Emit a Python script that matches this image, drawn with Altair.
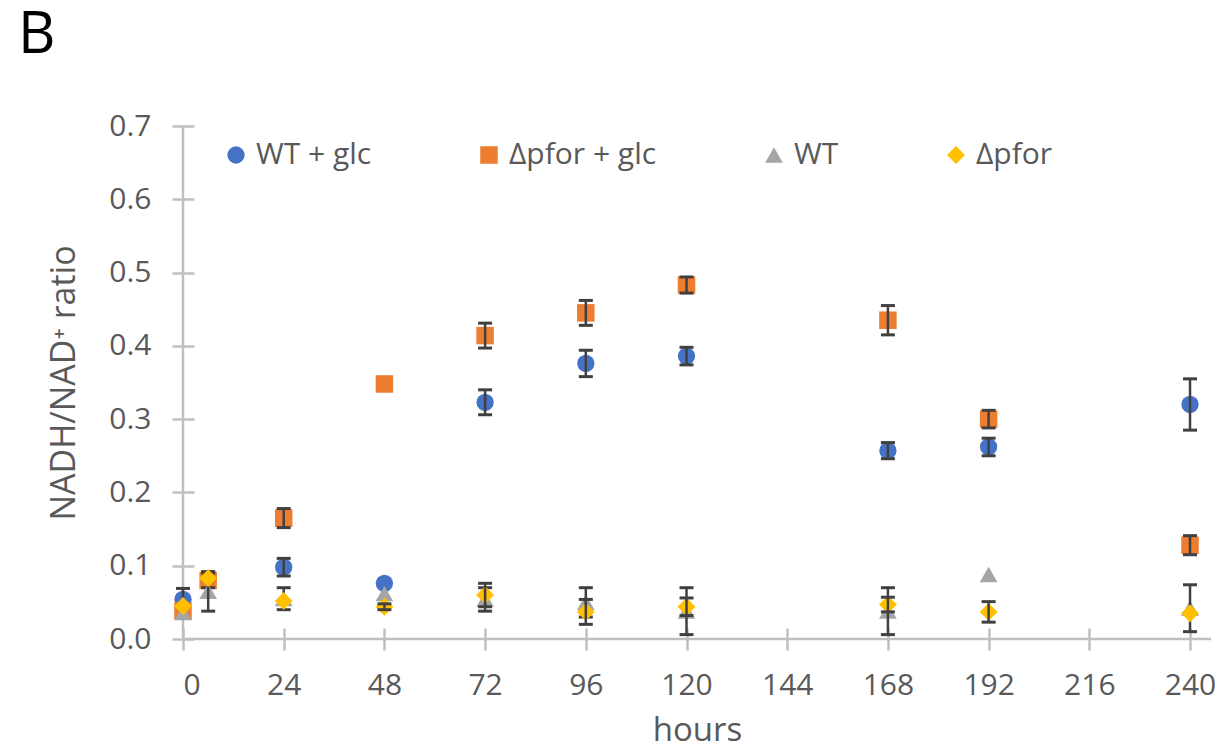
import altair as alt
import pandas as pd

hours = [0, 6, 24, 48, 72, 96, 120, 168, 192, 240]
wt_glc = [0.054, None, 0.098, 0.076, 0.323, 0.376, 0.386, 0.257, 0.262, 0.320]
wt_glc_err = [0.015, None, 0.012, None, 0.017, 0.018, 0.012, 0.011, 0.012, 0.035]
pfor_glc = [0.038, 0.080, 0.165, 0.348, 0.414, 0.445, 0.483, 0.435, 0.300, 0.128]
pfor_glc_err = [None, 0.010, 0.013, None, 0.017, 0.017, 0.011, 0.020, 0.012, 0.013]
wt = [0.036, 0.065, 0.055, 0.062, 0.054, 0.050, 0.038, 0.038, 0.088, 0.042]
wt_err = [None, 0.027, 0.015, None, 0.016, 0.020, 0.032, 0.032, None, 0.032]
pfor = [0.045, 0.083, 0.052, 0.044, 0.060, 0.037, 0.044, 0.047, 0.037, 0.035]
pfor_err = [None, None, None, 0.004, 0.016, 0.017, 0.012, 0.010, 0.014, None]

series_names = ["WT + glc", "Δpfor + glc", "WT", "Δpfor"]
series_values = [wt_glc, pfor_glc, wt, pfor]
series_errors = [wt_glc_err, pfor_glc_err, wt_err, pfor_err]
series_colors = ["#4472C4", "#ED7D31", "#A5A5A5", "#FFC000"]
series_shapes = ["circle", "square", "triangle-up", "diamond"]
series_sizes = [300, 320, 300, 380]

x_ticks = [0, 24, 48, 72, 96, 120, 144, 168, 192, 216, 240]
y_ticks = [0.0, 0.1, 0.2, 0.3, 0.4, 0.5, 0.6, 0.7]

rows = []
for name, vals, errs in zip(series_names, series_values, series_errors):
    for h, v, e in zip(hours, vals, errs):
        if v is None:
            continue
        rows.append({"series": name, "hours": h, "value": v,
                     "lo": (v - e) if e is not None else None,
                     "hi": (v + e) if e is not None else None})
df = pd.DataFrame(rows)
err_df = df.dropna(subset=["lo", "hi"])

FONT = "Open Sans"
TXT = "#595959"
AX = "#BFBFBF"

xscale = alt.Scale(domain=[0, 245], nice=False, zero=False)
yscale = alt.Scale(domain=[0, 0.7], nice=False)

xaxis = alt.Axis(values=x_ticks, title="hours", domain=False, grid=False,
                 offset=-11, tickSize=22, tickWidth=2.5, tickColor=AX,
                 labelFontSize=30, labelColor=TXT, labelFont=FONT, labelPadding=20,
                 titleFontSize=33, titleFont=FONT, titleColor=TXT,
                 titleFontWeight="normal", titlePadding=14)
yaxis = alt.Axis(values=y_ticks, format=".1f", title="NADH/NAD⁺ ratio",
                 domain=False, grid=False, offset=-11, tickSize=22,
                 tickWidth=2.5, tickColor=AX,
                 labelFontSize=30, labelColor=TXT, labelFont=FONT, labelPadding=21,
                 titleFontSize=34, titleFont=FONT, titleColor=TXT,
                 titleFontWeight="normal", titlePadding=27)

color_scale = alt.Scale(domain=series_names, range=series_colors)
shape_scale = alt.Scale(domain=series_names, range=series_shapes)
size_scale = alt.Scale(domain=series_names, range=series_sizes)

legend = alt.Legend(title=None, orient="none", legendX=38, legendY=14,
                    direction="horizontal", labelFontSize=30, labelColor=TXT,
                    labelFont=FONT, symbolSize=220, symbolStrokeWidth=0,
                    symbolOpacity=1, columnPadding=102, labelOffset=5)

base = alt.Chart(df)
ebase = alt.Chart(err_df)

axis_layer = base.mark_point(opacity=0).encode(
    x=alt.X("hours:Q", scale=xscale, axis=xaxis),
    y=alt.Y("value:Q", scale=yscale, axis=yaxis),
)

y_domain = alt.Chart(pd.DataFrame({"a": [0]})).mark_rule(color=AX, strokeWidth=2.5).encode(
    x=alt.datum(0, scale=xscale), y=alt.datum(0, scale=yscale), y2=alt.datum(0.7))
x_domain = alt.Chart(pd.DataFrame({"a": [0]})).mark_rule(color=AX, strokeWidth=2.5).encode(
    y=alt.datum(0, scale=yscale), x=alt.datum(0, scale=xscale), x2=alt.datum(245))

layers = [axis_layer, y_domain, x_domain]
for i, name in enumerate(series_names):
    sub = base.transform_filter(alt.datum.series == name)
    esub = ebase.transform_filter(alt.datum.series == name)
    pts = sub.mark_point(filled=True, opacity=1, strokeWidth=0).encode(
        x=alt.X("hours:Q", scale=xscale),
        y=alt.Y("value:Q", scale=yscale),
        color=alt.Color("series:N", scale=color_scale,
                        legend=legend if i == 0 else None),
        shape=alt.Shape("series:N", scale=shape_scale,
                        legend=legend if i == 0 else None),
        size=alt.Size("series:N", scale=size_scale, legend=None),
    )
    bar = esub.mark_rule(color="#404040", strokeWidth=2.5).encode(
        x="hours:Q", y="lo:Q", y2="hi:Q")
    cap_lo = esub.mark_tick(color="#404040", orient="horizontal", size=14,
                            thickness=3, opacity=1).encode(x="hours:Q", y="lo:Q")
    cap_hi = esub.mark_tick(color="#404040", orient="horizontal", size=14,
                            thickness=3, opacity=1).encode(x="hours:Q", y="hi:Q")
    layers += [pts, bar, cap_lo, cap_hi]

chart = alt.layer(*layers).properties(
    width=1028, height=513,
    title=alt.TitleParams("B", anchor="start", frame="group", fontSize=58,
                          font=FONT, color="#000000", fontWeight="normal",
                          dx=-165, offset=46),
    autosize=alt.AutoSizeParams(type="none"),
    padding={"left": 175, "top": 118, "right": 6, "bottom": 102},
).configure_view(stroke=None)

chart.save("out.html", embed_options={"renderer": "svg", "actions": False})
